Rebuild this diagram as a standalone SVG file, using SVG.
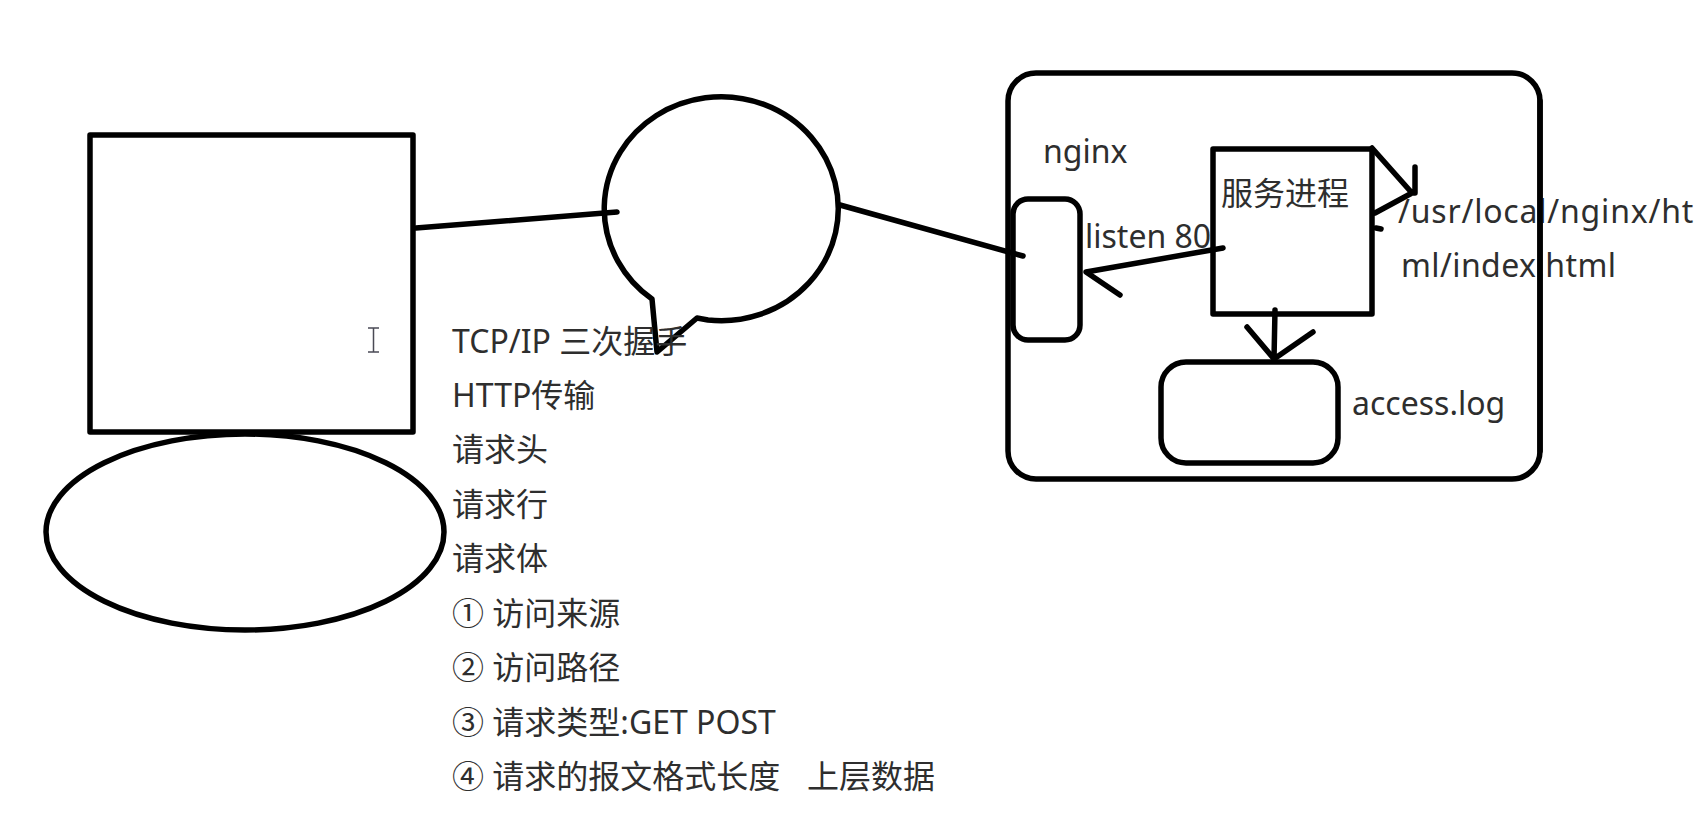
<svg xmlns="http://www.w3.org/2000/svg" width="1705" height="827" viewBox="0 0 1705 827">
<style>
  .shape { fill: none; stroke: #000; stroke-width: 5.5; stroke-linejoin: round; stroke-linecap: round; }
  .conn { fill: none; stroke: #000; stroke-width: 5.5; stroke-linecap: round; stroke-linejoin: round; }
  .t { font-family: "Noto Sans", "Noto Sans CJK SC", sans-serif; font-size: 32px; fill: #2e2e2e; }
</style>
<rect width="1705" height="827" fill="#fff"/>

<g id="monitor">
  <rect class="shape" x="90" y="135" width="323" height="297" stroke-linejoin="miter"/>
  <path d="M368 328 H379 M373.5 328 V352 M368 352 H379" fill="none" stroke="#4a4a55" stroke-width="1.5"/>
</g>
<g id="keyboard">
  <ellipse class="shape" cx="245" cy="532" rx="199" ry="98"/>
</g>

<g id="bubble">
  <path class="shape" d="M652 299 L657 352 L697 318 L708 320 A117 112 0 1 0 652 299 Z"/>
</g>

<g id="server">
  <rect class="shape" x="1008" y="73" width="532" height="406" rx="28"/>
  <text class="t" x="1043" y="163">nginx</text>
</g>

<g id="listen">
  <rect class="shape" x="1013" y="199" width="67" height="141" rx="15"/>
  <text class="t" x="1085" y="248">listen 80</text>
</g>

<g id="process">
  <rect class="shape" x="1213" y="149" width="159" height="165" stroke-linejoin="miter"/>
  <text class="t" x="1221" y="205">服务进程</text>
</g>

<g id="accesslog">
  <rect class="shape" x="1161" y="362" width="177" height="101" rx="25"/>
  <text class="t" x="1352" y="415">access.log</text>
</g>

<g id="path-label">
  <text class="t" x="1398" y="223" letter-spacing="0.8">/usr/local/nginx/ht</text>
  <text class="t" x="1401" y="277" letter-spacing="0.4">ml/index.html</text>
</g>

<g id="server-edge">
  <path class="shape" d="M1540 101 V451"/>
</g>

<g id="connectors">
  <line class="conn" x1="416" y1="228" x2="617" y2="212"/>
  <line class="conn" x1="840" y1="205" x2="1023" y2="256"/>
  <path class="conn" d="M1223 248 L1086 272 L1120 295"/>
  <path class="conn" d="M1372 148 L1412 193 M1415 167 L1415 193 L1412 193 L1375 213"/>
  <path class="conn" d="M1376 228 L1381 229"/>
  <path class="conn" d="M1275 310 L1274 359 M1247 327 L1274 359 L1313 332"/>
</g>

<g id="notes">
  <text class="t" x="452" y="353">TCP/IP 三次握手</text>
  <text class="t" x="452" y="407">HTTP传输</text>
  <text class="t" x="452" y="461">请求头</text>
  <text class="t" x="452" y="516">请求行</text>
  <text class="t" x="452" y="570">请求体</text>
  <text class="t" x="452" y="625">① 访问来源</text>
  <text class="t" x="452" y="679">② 访问路径</text>
  <text class="t" x="452" y="734">③ 请求类型:GET POST</text>
  <text class="t" x="452" y="788">④ 请求的报文格式长度<tspan x="807">上层数据</tspan></text>
</g>
</svg>
